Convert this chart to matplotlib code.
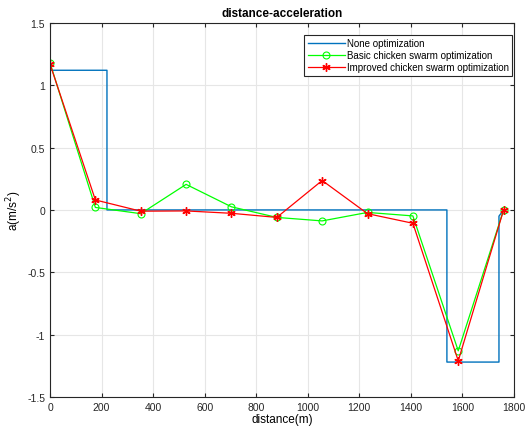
import numpy as np
import matplotlib
matplotlib.use("Agg")
import matplotlib.pyplot as plt

plt.rcParams['font.family'] = ['Liberation Sans', 'DejaVu Sans']

# none optimization (step profile)
x_none = [0, 221, 221, 1540, 1540, 1742, 1742, 1760]
a_none = [1.12, 1.12, 0, 0, -1.22, -1.22, -0.05, 0]

# optimized profiles, sampled at stations
x_pts = [0, 176, 352, 528, 704, 880, 1056, 1232, 1408, 1584, 1760]
a_basic = [1.18, 0.02, -0.03, 0.205, 0.025, -0.06, -0.088, -0.02, -0.048, -1.13, 0]
a_improved = [1.17, 0.08, -0.01, -0.008, -0.027, -0.06, 0.236, -0.03, -0.107, -1.21, 0]

fig = plt.figure(figsize=(5.32, 4.31), dpi=100)
ax = fig.add_axes([0.094, 0.0766, 0.872, 0.868])

ax.plot(x_none, a_none, color='#0072BD', lw=1.0, label='None optimization')
ax.plot(x_pts, a_basic, color='#00FF00', lw=0.9, marker='o', ms=5,
        mfc='none', mew=0.8, label='Basic chicken swarm optimization')
ax.plot(x_pts, a_improved, color='#FF0000', lw=0.9, marker=(6, 2, 0), ms=6,
        mew=1.0, label='Improved chicken swarm optimization')

ax.set_xlim(0, 1800)
ax.set_ylim(-1.5, 1.5)
ax.set_xticks(np.arange(0, 1801, 200))
ax.set_yticks([-1.5, -1, -0.5, 0, 0.5, 1, 1.5])
ax.set_yticklabels(['-1.5', '-1', '-0.5', '0', '0.5', '1', '1.5'])
ax.grid(True, color='#e6e6e6', lw=0.8)
ax.set_axisbelow(True)
ax.tick_params(direction='in', top=True, right=True, labelsize=7.5,
               colors='#262626', length=3)
for s in ax.spines.values():
    s.set_color('#262626')
    s.set_linewidth(0.8)

ax.set_title('distance-acceleration', fontsize=8.5, fontweight='bold', pad=5)
ax.set_xlabel('distance(m)', fontsize=8.5, labelpad=1)
ax.set_ylabel('a(m/s$^2$)', fontsize=8.5, labelpad=2)

leg = ax.legend(loc='upper right', fontsize=7, fancybox=False,
                edgecolor='#262626', framealpha=1, borderpad=0.35,
                labelspacing=0.2, handlelength=3.8, handletextpad=0.2,
                borderaxespad=0, bbox_to_anchor=(0.996, 0.968))
leg.get_frame().set_linewidth(0.8)

fig.savefig('out.png', dpi=100)
